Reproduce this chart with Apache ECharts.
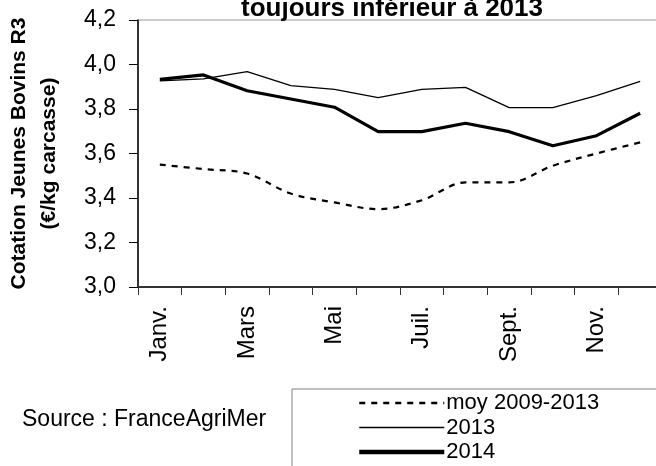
<!DOCTYPE html>
<html>
<head>
<meta charset="utf-8">
<script src="https://cdn.jsdelivr.net/npm/echarts@6/dist/echarts.min.js"></script>
<style>
  html, body { margin: 0; padding: 0; background: #fff; }
  #chart { width: 656px; height: 466px; }
</style>
</head>
<body>
<div id="chart"></div>
<script>
// months (labels shown every other one)
var months = ['Janv.', 'Févr.', 'Mars', 'Avr.', 'Mai', 'Juin', 'Juil.', 'Août', 'Sept.', 'Oct.', 'Nov.', 'Déc.'];
var yTicks = ['3,0', '3,2', '3,4', '3,6', '3,8', '4,0', '4,2'];

// prices (€/kg carcasse)
var moy0913 = [3.55, 3.53, 3.51, 3.42, 3.38, 3.35, 3.39, 3.47, 3.47, 3.545, 3.60, 3.65];
var y2013 = [3.926, 3.935, 3.968, 3.905, 3.888, 3.851, 3.888, 3.897, 3.806, 3.806, 3.86, 3.924];
var y2014 = [3.933, 3.953, 3.882, 3.845, 3.808, 3.698, 3.698, 3.736, 3.698, 3.635, 3.68, 3.781];

var font = 'Arial, "Liberation Sans", sans-serif';

var chart = echarts.init(document.getElementById('chart'), null, { renderer: 'canvas' });

var option = {
  backgroundColor: '#fff',
  animation: false,
  textStyle: { fontFamily: font, color: '#000' },
  title: [{
    text: 'toujours inférieur à 2013',
    left: 392,
    textAlign: 'center',
    top: -4,
    padding: 0,
    textStyle: { fontSize: 26, fontWeight: 'bold', color: '#000', fontFamily: font }
  }, {
    text: 'Source : FranceAgriMer',
    left: 22,
    top: 408,
    padding: 0,
    textStyle: { fontSize: 23, fontWeight: 'normal', color: '#000', fontFamily: font }
  }],
  legend: {
    orient: 'vertical',
    left: 292,
    top: 389,
    width: 400,
    height: 120,
    padding: [3, 120, 12, 65],
    borderColor: '#808080',
    borderWidth: 1,
    itemWidth: 85,
    itemHeight: 14,
    itemGap: 2.5,
    itemStyle: { opacity: 0 },
    textStyle: { fontSize: 22, lineHeight: 22, color: '#000', fontFamily: font, padding: [0, 0, 0, -3] },
    data: [
      { name: 'moy 2009-2013', lineStyle: { width: 2.5 } },
      { name: '2013', lineStyle: { width: 1.5 } },
      { name: '2014', lineStyle: { width: 4.5 } }
    ]
  },
  grid: {
    left: 138,
    top: 20,
    width: 524,
    height: 267,
    show: true,
    borderColor: '#999',
    borderWidth: 1,
    containLabel: false,
    outerBoundsMode: 'none'
  },
  xAxis: {
    type: 'category',
    data: months,
    boundaryGap: true,
    axisLine: { show: true, lineStyle: { color: '#333', width: 2 } },
    axisTick: { show: true, interval: 0, length: 8, lineStyle: { color: '#333', width: 1 } },
    axisLabel: { interval: 1, rotate: 90, margin: 19, fontSize: 24, color: '#000', fontFamily: font },
    splitLine: { show: false }
  },
  yAxis: {
    type: 'value',
    min: 3.0,
    max: 4.2,
    interval: 0.2,
    name: 'Cotation Jeunes Bovins R3\n(€/kg carcasse)',
    nameLocation: 'middle',
    nameRotate: 90,
    nameGap: 74,
    nameTextStyle: { fontSize: 21, fontWeight: 'bold', lineHeight: 30, color: '#000', fontFamily: font },
    axisLine: { show: true, lineStyle: { color: '#000', width: 1.5 } },
    axisTick: { show: true, length: 9, lineStyle: { color: '#000', width: 1 } },
    axisLabel: {
      margin: 22,
      fontSize: 23,
      color: '#000',
      fontFamily: font,
      formatter: function (v) { return yTicks[Math.round((v - 3) / 0.2)]; }
    },
    splitLine: { show: false }
  },
  series: [{
    name: 'moy 2009-2013',
    type: 'line',
    data: moy0913,
    smooth: 0.35,
    symbol: 'none',
    lineStyle: { color: '#000', width: 2.2, type: [6, 6] }
  }, {
    name: '2013',
    type: 'line',
    data: y2013,
    symbol: 'none',
    lineStyle: { color: '#000', width: 1.3 }
  }, {
    name: '2014',
    type: 'line',
    data: y2014,
    symbol: 'none',
    lineStyle: { color: '#000', width: 3.2 }
  }]
};

chart.setOption(option);
</script>
</body>
</html>
